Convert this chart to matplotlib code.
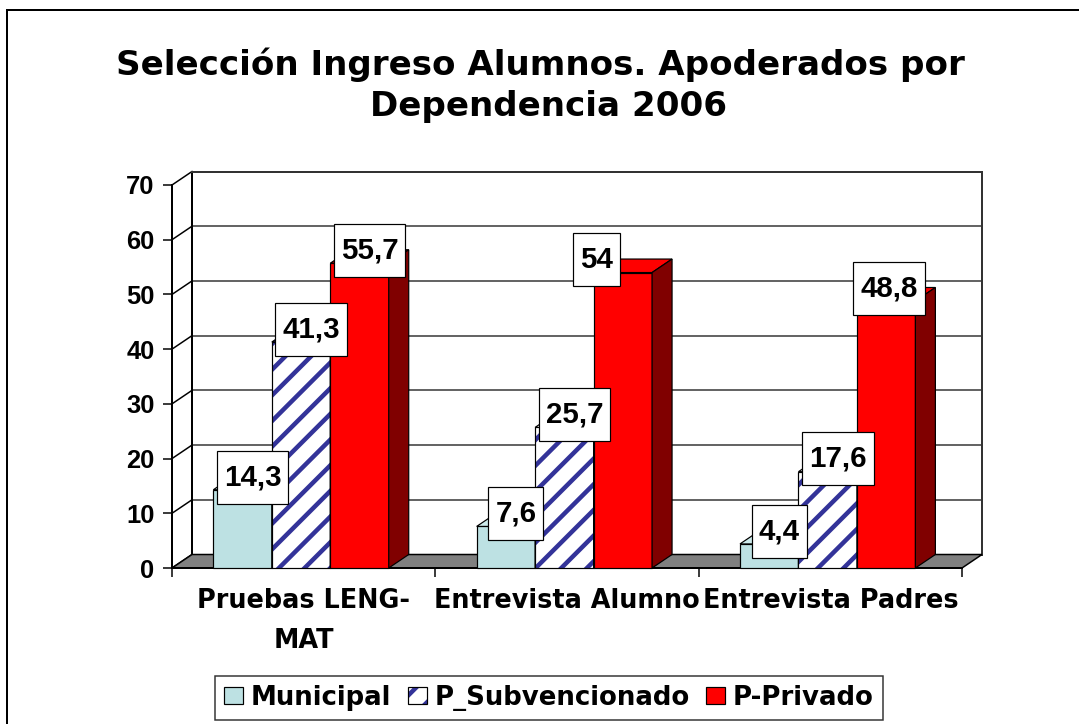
import matplotlib
matplotlib.use("Agg")
import matplotlib.pyplot as plt
from matplotlib.patches import Polygon, Rectangle, Patch
from matplotlib.transforms import IdentityTransform
from matplotlib.legend_handler import HandlerTuple

# ---------------- data ----------------
categories = ["Pruebas LENG-\nMAT", "Entrevista Alumno", "Entrevista Padres"]
series_names = ["Municipal", "P_Subvencionado", "P-Privado"]
municipal = [14.3, 7.6, 4.4]
subvencionado = [41.3, 25.7, 17.6]
privado = [55.7, 54.0, 48.8]
value_labels = [["14,3", "7,6", "4,4"],
                ["41,3", "25,7", "17,6"],
                ["55,7", "54", "48,8"]]
y_ticks = [0, 10, 20, 30, 40, 50, 60, 70]
title_lines = ["Selección Ingreso Alumnos. Apoderados por", "Dependencia 2006"]

# ---------------- styling ----------------
DPI = 77
W, H = 1079, 724
PT = 72.0 / DPI  # px -> pt

NUM_FONT = ["Liberation Sans", "DejaVu Sans"]
WORD_FONT = ["DejaVu Sans"]
plt.rcParams["font.family"] = NUM_FONT
plt.rcParams["font.weight"] = "bold"
plt.rcParams["hatch.linewidth"] = 4.5 * PT

front_cols = ["#BDE1E3", "white", "#FF0000"]
top_cols = ["#CDEBEC", "white", "#FF0000"]
side_cols = ["#7FA3A6", "#9999CC", "#800000"]
hatches = [None, "/", None]
hatch_col = "#333399"
# horizontal nudges (px) of individual value-label boxes, as placed in the original
label_nudge_px = {(2, 1): -36, (2, 2): -7}

fig = plt.figure(figsize=(W / DPI, H / DPI), dpi=DPI)
fig.patch.set_facecolor("white")

# front plane of the plot area in pixels
x_left, x_right = 172, 962
y_zero, y_top = 568, 185
ax = fig.add_axes([x_left / W, (H - y_zero) / H,
                   (x_right - x_left) / W, (y_zero - y_top) / H])
ncat = len(categories)
ymax = y_ticks[-1]
ax.set_xlim(0, ncat)
ax.set_ylim(0, ymax)
ax.patch.set_visible(False)

px_x = (x_right - x_left) / ncat      # px per x data unit
px_y = (y_zero - y_top) / ymax        # px per y data unit
dx = 20 / px_x
dy = 13.5 / px_y

# back wall, left wall
ax.add_patch(Polygon([(dx, dy), (ncat + dx, dy), (ncat + dx, ymax + dy), (dx, ymax + dy)],
                     closed=True, facecolor="white", edgecolor="none", zorder=0.5, clip_on=False))
for v in y_ticks[1:]:
    ax.plot([dx, ncat + dx], [v + dy, v + dy], color="#333333", lw=1.5 * PT, zorder=0.7, clip_on=False)
for v in y_ticks:
    ax.plot([0, dx], [v, v + dy], color="black", lw=1.5 * PT, zorder=0.7, clip_on=False)
ax.plot([dx, dx], [dy, ymax + dy], color="black", lw=2 * PT, zorder=0.8, clip_on=False)
ax.plot([ncat + dx, ncat + dx], [dy, ymax + dy], color="#333333", lw=2 * PT, zorder=0.8, clip_on=False)
ax.plot([dx, ncat + dx], [ymax + dy, ymax + dy], color="#333333", lw=2 * PT, zorder=0.8, clip_on=False)

# floor
ax.add_patch(Polygon([(0, 0), (ncat, 0), (ncat + dx, dy), (dx, dy)], closed=True,
                     facecolor="#808080", edgecolor="black", lw=1.5 * PT, zorder=0.9, clip_on=False))

# bars
series = [municipal, subvencionado, privado]
bw = 0.222
start = 0.157
z = 2.0
for i in range(ncat):
    for s, vals in enumerate(series):
        v = vals[i]
        x0 = i + start + s * bw
        x1 = x0 + bw
        if hatches[s]:
            ax.bar(x0, v, width=bw, align="edge", facecolor=front_cols[s], edgecolor=hatch_col,
                   hatch=hatches[s], lw=0, zorder=z, clip_on=False)
            ax.bar(x0, v, width=bw, align="edge", fill=False, edgecolor="black",
                   lw=1.2 * PT, zorder=z + 0.01, clip_on=False)
        else:
            ax.bar(x0, v, width=bw, align="edge", facecolor=front_cols[s], edgecolor="black",
                   lw=1.2 * PT, zorder=z, clip_on=False)
        top_xy = [(x0, v), (x1, v), (x1 + dx, v + dy), (x0 + dx, v + dy)]
        if hatches[s]:
            ax.add_patch(Polygon(top_xy, closed=True, facecolor=top_cols[s], edgecolor=hatch_col,
                                 hatch=hatches[s], lw=0, zorder=z + 0.02, clip_on=False))
            ax.add_patch(Polygon(top_xy, closed=True, fill=False, edgecolor="black",
                                 lw=1.2 * PT, zorder=z + 0.025, clip_on=False))
        else:
            ax.add_patch(Polygon(top_xy, closed=True, facecolor=top_cols[s], edgecolor="black",
                                 lw=1.2 * PT, zorder=z + 0.02, clip_on=False))
        ax.add_patch(Polygon([(x1, 0), (x1 + dx, dy), (x1 + dx, v + dy), (x1, v)], closed=True,
                             facecolor=side_cols[s], edgecolor="black", lw=1.2 * PT,
                             zorder=z + 0.03, clip_on=False))
        z += 0.1

# value labels (text + white box with generous vertical padding)
renderer = fig.canvas.get_renderer()
pad_x, pad_y = 7, 12.5
for i in range(ncat):
    for s, vals in enumerate(series):
        v = vals[i]
        xc = i + start + s * bw + bw / 2 + dx / 2 + label_nudge_px.get((s, i), 0) / px_x
        yc = v + dy / 2 + 6 / px_y
        t = ax.text(xc, yc, value_labels[s][i], ha="center", va="center",
                    fontsize=29.5 * PT, fontweight="bold", zorder=20, clip_on=False)
        bb = t.get_window_extent(renderer)
        ax.add_artist(Rectangle((bb.x0 - pad_x, bb.y0 - pad_y), bb.width + 2 * pad_x,
                                bb.height + 2 * pad_y, transform=IdentityTransform(),
                                facecolor="white", edgecolor="black", lw=1.2 * PT,
                                zorder=19, clip_on=False))

# axes / ticks
for side in ["top", "right"]:
    ax.spines[side].set_visible(False)
for side in ["left", "bottom"]:
    ax.spines[side].set_linewidth(2 * PT)
    ax.spines[side].set_zorder(1.5)
ax.set_yticks(y_ticks)
ax.set_yticklabels([str(t) for t in y_ticks])
ax.tick_params(axis="y", direction="out", length=8, width=1.5 * PT,
               labelsize=25.5 * PT, pad=9 * PT)
ax.set_xticks(list(range(ncat + 1)))
ax.set_xticklabels([""] * (ncat + 1))
ax.tick_params(axis="x", which="major", direction="out", length=8, width=1.5 * PT)
ax.set_xticks([i + 0.5 for i in range(ncat)], minor=True)
ax.set_xticklabels(categories, minor=True)
ax.tick_params(axis="x", which="minor", length=0, labelsize=25.5 * PT, pad=20 * PT)
for lab in ax.get_yticklabels():
    lab.set_fontweight("bold")
for lab in ax.get_xticklabels(minor=True):
    lab.set_fontweight("bold")
    lab.set_family(WORD_FONT)
    lab.set_linespacing(1.68)

# title
fig.text(540 / W, 1 - 75 / H, title_lines[0], ha="center", va="baseline",
         fontsize=34.1 * PT, fontweight="bold", family=WORD_FONT)
fig.text(549 / W, 1 - 116 / H, title_lines[1], ha="center", va="baseline",
         fontsize=34.1 * PT, fontweight="bold", family=WORD_FONT)

# legend
h_sub = (Patch(facecolor="white", edgecolor=hatch_col, hatch="/", lw=0),
         Patch(fill=False, edgecolor="black", lw=1.2 * PT))
handles = [Patch(facecolor=front_cols[0], edgecolor="black", lw=1.2 * PT),
           h_sub,
           Patch(facecolor=front_cols[2], edgecolor="black", lw=1.2 * PT)]
leg = fig.legend(handles, series_names, loc="center", ncol=3,
                 bbox_to_anchor=(549 / W, 1 - 698 / H), bbox_transform=fig.transFigure,
                 prop={"size": 26 * PT, "weight": "bold", "family": WORD_FONT},
                 frameon=True, fancybox=False,
                 handlelength=0.72, handleheight=0.64, handletextpad=0.3, columnspacing=0.64,
                 borderpad=0.35, borderaxespad=0,
                 handler_map={tuple: HandlerTuple(ndivide=1, pad=0)})
leg.get_frame().set_edgecolor("black")
leg.get_frame().set_linewidth(1.5 * PT)

# figure border (chart area)
fig.add_artist(Rectangle((7 / W, -0.1), 1.2, 1.1 - 10 / H, transform=fig.transFigure,
                         fill=False, edgecolor="black", lw=2 * PT))

fig.savefig("out.png", dpi=DPI, facecolor="white")
